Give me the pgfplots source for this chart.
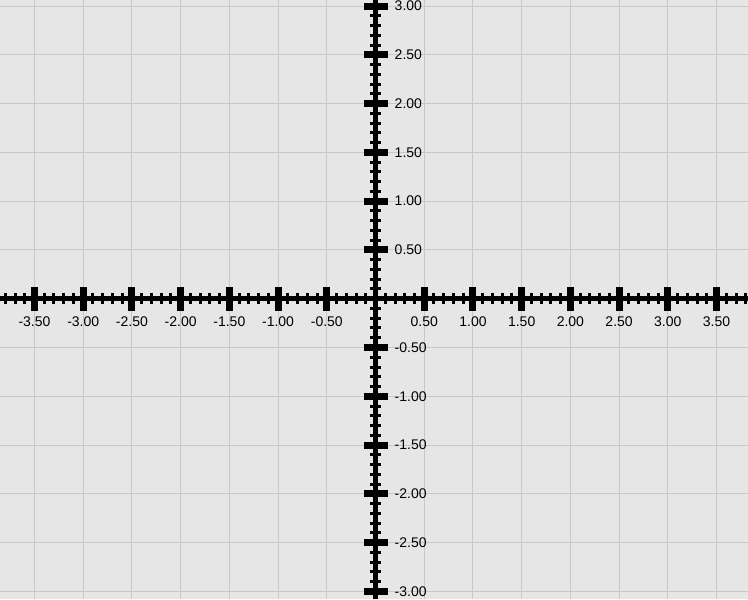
\documentclass[border=0pt]{standalone}
\usepackage{fontspec}
\setmainfont{Liberation Sans}
\usepackage{pgfplots}
\pgfplotsset{compat=1.18}
\definecolor{bg}{RGB}{230,230,230}
\definecolor{gridc}{RGB}{200,200,200}
\begin{document}
\begin{tikzpicture}
\begin{axis}[
  scale only axis, width=748pt, height=599pt,
  xmin=-3.854, xmax=3.823, ymin=-3.078, ymax=3.062,
  axis lines*=middle,
  axis line style={line width=5pt, black},
  axis background/.style={fill=bg},
  xtick={-3.5,-3,-2.5,-2,-1.5,-1,-0.5,0.5,1,1.5,2,2.5,3,3.5},
  ytick={-3,-2.5,-2,-1.5,-1,-0.5,0.5,1,1.5,2,2.5,3},
  minor xtick={-3.8,-3.7,-3.6,-3.4,-3.3,-3.2,-3.1,-2.9,-2.8,-2.7,-2.6,-2.4,-2.3,-2.2,-2.1,-1.9,-1.8,-1.7,-1.6,-1.4,-1.3,-1.2,-1.1,-0.9,-0.8,-0.7,-0.6,-0.4,-0.3,-0.2,-0.1,0.1,0.2,0.3,0.4,0.6,0.7,0.8,0.9,1.1,1.2,1.3,1.4,1.6,1.7,1.8,1.9,2.1,2.2,2.3,2.4,2.6,2.7,2.8,2.9,3.1,3.2,3.3,3.4,3.6,3.7,3.8},
  minor ytick={-2.9,-2.8,-2.7,-2.6,-2.4,-2.3,-2.2,-2.1,-1.9,-1.8,-1.7,-1.6,-1.4,-1.3,-1.2,-1.1,-0.9,-0.8,-0.7,-0.6,-0.4,-0.3,-0.2,-0.1,0.1,0.2,0.3,0.4,0.6,0.7,0.8,0.9,1.1,1.2,1.3,1.4,1.6,1.7,1.8,1.9,2.1,2.2,2.3,2.4,2.6,2.7,2.8,2.9},
  grid=major,
  major grid style={gridc, line width=1pt},
  tick align=center,
  major tick length=24pt, minor tick length=11pt,
  major tick style={line width=7pt, black},
  minor tick style={line width=3pt, black},
  /pgf/number format/assume math mode=true,
  /pgf/number format/.cd, fixed, fixed zerofill, precision=2, /pgfplots/.cd,
  tick label style={font=\fontsize{14}{16}\selectfont, inner sep=0pt},
  yticklabel pos=right,
  yticklabel style={anchor=west, xshift=31pt},
  xticklabel style={anchor=north, yshift=-5.5pt},
]
\coordinate (sw) at (rel axis cs:0,0);
\coordinate (ne) at (rel axis cs:1,1);
\end{axis}
\pgfresetboundingbox
\path[use as bounding box] (sw) rectangle (ne);
\end{tikzpicture}
\end{document}
